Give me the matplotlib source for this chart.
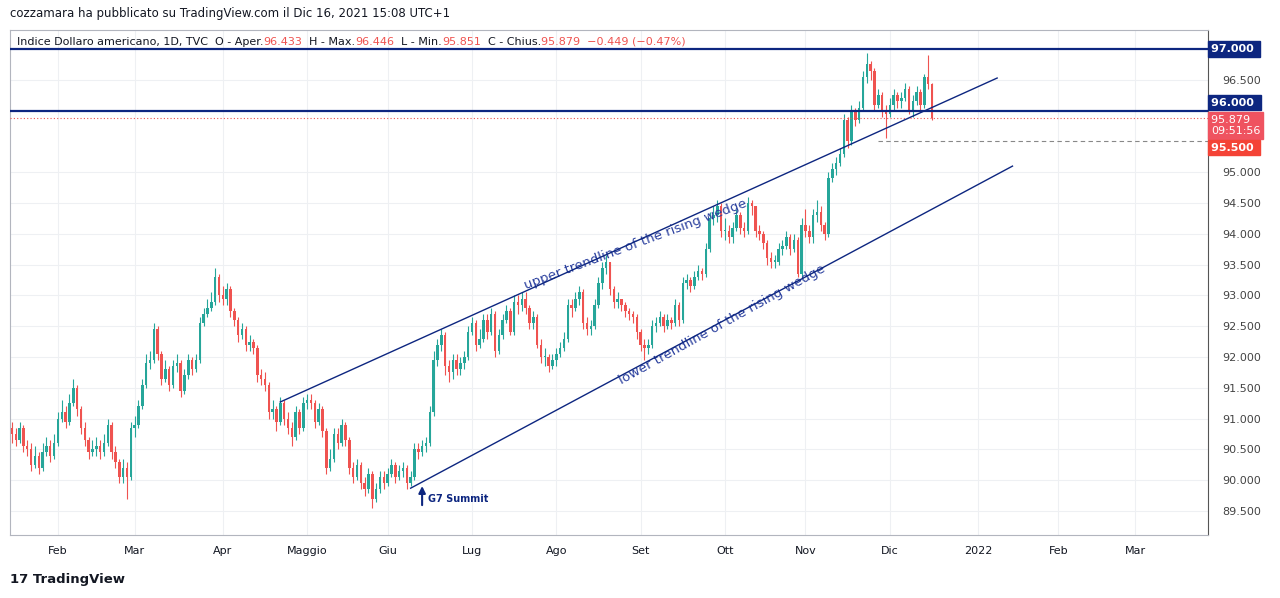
import matplotlib
matplotlib.use("Agg")
import matplotlib.pyplot as plt
import pandas as pd
import numpy as np
from matplotlib.ticker import FormatStrFormatter

closes = [
 90.75, 90.65, 90.85, 90.55, 90.50, 90.25, 90.40, 90.20, 90.45, 90.55, 90.40, 90.60,
 91.00, 91.10, 90.95, 91.25, 91.50, 91.15, 90.85, 90.65, 90.45, 90.50, 90.55, 90.45, 90.60, 90.90, 90.45, 90.30, 90.05, 90.20, 90.05, 90.85,
 90.90, 91.20, 91.55, 91.90, 91.95, 92.45, 92.05, 91.65, 91.80, 91.55, 91.85, 91.90, 91.45, 91.70, 91.95, 91.80, 91.95, 92.55, 92.70, 92.80, 92.90, 93.30, 93.00,
 92.95, 93.10, 92.75, 92.60, 92.35, 92.45, 92.20, 92.25, 92.15, 91.70, 91.65, 91.55, 91.10, 91.15, 90.95, 91.25, 91.00, 90.85, 90.70, 91.10, 90.85, 91.25,
 91.30, 91.25, 90.95, 91.15, 90.80, 90.20, 90.35, 90.75, 90.60, 90.90, 90.65, 90.20, 90.05, 90.25, 89.95, 89.85, 90.10, 89.70, 89.85, 90.05, 89.95,
 90.10, 90.25, 90.05, 90.15, 90.20, 89.95, 90.05, 90.50, 90.45, 90.55, 90.60, 91.10, 91.95, 92.20, 92.35, 91.85, 91.75, 91.95, 91.80, 91.90, 92.00, 92.40,
 92.55, 92.20, 92.30, 92.60, 92.40, 92.70, 92.10, 92.35, 92.60, 92.75, 92.40, 92.90, 92.85, 92.95, 92.80, 92.55, 92.65, 92.20, 92.00, 92.00, 91.85, 91.95,
 92.05, 92.15, 92.30, 92.85, 92.80, 92.95, 93.05, 92.55, 92.45, 92.50, 92.85, 93.20, 93.45, 93.55, 93.10, 92.90, 92.95, 92.85, 92.75, 92.70, 92.65, 92.40,
 92.20, 92.15, 92.20, 92.50, 92.55, 92.65, 92.50, 92.60, 92.55, 92.85, 92.60, 93.20, 93.25, 93.15, 93.30, 93.40, 93.35, 93.75, 94.25, 94.30, 94.45, 94.05,
 94.05, 93.95, 94.10, 94.30, 94.10, 94.05, 94.50, 94.45, 94.05, 94.00, 93.85, 93.60, 93.55, 93.55, 93.75, 93.80, 93.95, 93.75, 93.90, 93.35, 94.15,
 94.05, 93.95, 94.30, 94.35, 94.15, 94.00, 94.90, 95.05, 95.15, 95.30, 95.85, 95.50, 96.00, 95.85, 96.05, 96.55, 96.75, 96.65, 96.10, 96.25, 96.00, 95.95,
 96.10, 96.25, 96.15, 96.20, 96.35, 96.00, 96.15, 96.30, 96.10, 96.55, 96.433, 95.879,
]
opens = [90.85] + closes[:-1]
opens[-1] = 96.433
highs = [
 90.95, 90.85, 90.95, 90.90, 90.65, 90.60, 90.55, 90.45, 90.60, 90.70, 90.65, 90.75,
 91.10, 91.30, 91.20, 91.40, 91.65, 91.55, 91.20, 90.95, 90.70, 90.65, 90.70, 90.65, 90.75, 91.00, 90.95, 90.55, 90.35, 90.35, 90.30, 90.95,
 91.05, 91.30, 91.65, 92.05, 92.10, 92.55, 92.50, 92.10, 91.95, 91.85, 91.95, 92.05, 91.95, 91.80, 92.05, 92.00, 92.05, 92.65, 92.80, 92.95, 93.05, 93.45, 93.35,
 93.15, 93.20, 93.15, 92.80, 92.65, 92.55, 92.50, 92.35, 92.30, 92.20, 91.80, 91.75, 91.60, 91.30, 91.20, 91.35, 91.30, 91.10, 90.95, 91.20, 91.15, 91.35,
 91.40, 91.40, 91.30, 91.25, 91.20, 90.85, 90.50, 90.85, 90.85, 91.00, 90.95, 90.70, 90.30, 90.35, 90.30, 90.05, 90.20, 90.15, 89.95, 90.15, 90.15,
 90.20, 90.35, 90.30, 90.25, 90.30, 90.25, 90.15, 90.60, 90.60, 90.65, 90.70, 91.20, 92.10, 92.30, 92.45, 92.40, 91.95, 92.05, 92.05, 92.00, 92.10, 92.50,
 92.65, 92.60, 92.45, 92.70, 92.70, 92.80, 92.75, 92.45, 92.70, 92.85, 92.80, 93.00, 93.00, 93.05, 93.05, 92.85, 92.75, 92.70, 92.30, 92.15, 92.05, 92.05,
 92.15, 92.25, 92.40, 92.95, 92.95, 93.05, 93.15, 93.10, 92.65, 92.60, 92.95, 93.30, 93.55, 93.65, 93.55, 93.15, 93.05, 92.95, 92.90, 92.80, 92.75, 92.70,
 92.45, 92.30, 92.30, 92.60, 92.65, 92.75, 92.70, 92.70, 92.65, 92.95, 92.90, 93.30, 93.35, 93.30, 93.40, 93.50, 93.45, 93.85, 94.35, 94.45, 94.55, 94.50,
 94.25, 94.15, 94.20, 94.40, 94.35, 94.20, 94.60, 94.55, 94.45, 94.15, 94.05, 93.90, 93.70, 93.65, 93.85, 93.90, 94.05, 94.00, 94.00, 93.95, 94.25,
 94.40, 94.15, 94.40, 94.55, 94.45, 94.20, 95.00, 95.15, 95.25, 95.40, 95.95, 95.90, 96.10, 96.05, 96.15, 96.65, 96.94, 96.80, 96.70, 96.35, 96.30, 96.10,
 96.20, 96.35, 96.30, 96.30, 96.45, 96.40, 96.25, 96.40, 96.35, 96.60, 96.90, 96.446,
]
lows = [
 90.60, 90.55, 90.60, 90.45, 90.40, 90.15, 90.20, 90.10, 90.15, 90.40, 90.30, 90.35,
 90.55, 90.95, 90.85, 90.90, 91.20, 91.05, 90.75, 90.55, 90.35, 90.40, 90.40, 90.35, 90.40, 90.55, 90.35, 90.20, 89.95, 89.95, 89.70, 90.00,
 90.70, 90.85, 91.15, 91.50, 91.80, 91.90, 91.95, 91.55, 91.60, 91.45, 91.50, 91.75, 91.35, 91.40, 91.65, 91.70, 91.75, 91.90, 92.50, 92.65, 92.75, 92.85, 92.90,
 92.85, 92.85, 92.65, 92.50, 92.25, 92.30, 92.10, 92.10, 92.05, 91.60, 91.55, 91.45, 91.00, 91.00, 90.80, 90.90, 90.90, 90.75, 90.55, 90.65, 90.75, 90.80,
 91.15, 91.15, 90.85, 90.90, 90.70, 90.10, 90.15, 90.30, 90.50, 90.55, 90.55, 90.10, 89.95, 90.00, 89.85, 89.75, 89.80, 89.55, 89.65, 89.80, 89.85,
 89.90, 90.05, 89.95, 90.00, 90.05, 89.85, 89.90, 90.00, 90.35, 90.40, 90.45, 90.55, 91.05, 91.85, 92.10, 91.70, 91.60, 91.65, 91.70, 91.70, 91.80, 91.95,
 92.35, 92.10, 92.15, 92.25, 92.30, 92.35, 92.00, 92.05, 92.30, 92.55, 92.35, 92.35, 92.70, 92.75, 92.70, 92.45, 92.45, 92.15, 91.90, 91.85, 91.75, 91.80,
 91.85, 92.00, 92.10, 92.25, 92.65, 92.75, 92.85, 92.45, 92.35, 92.35, 92.45, 92.80, 93.10, 93.35, 93.00, 92.80, 92.80, 92.75, 92.65, 92.60, 92.55, 92.30,
 92.10, 91.95, 92.05, 92.15, 92.40, 92.50, 92.40, 92.45, 92.45, 92.50, 92.50, 92.55, 93.10, 93.05, 93.10, 93.25, 93.25, 93.30, 93.70, 94.15, 94.20, 93.95,
 93.90, 93.85, 93.85, 94.05, 94.00, 93.95, 94.00, 94.30, 93.95, 93.90, 93.75, 93.50, 93.45, 93.45, 93.50, 93.65, 93.75, 93.65, 93.70, 93.30, 93.30,
 93.95, 93.85, 93.85, 94.20, 94.05, 93.90, 93.95, 94.85, 94.95, 95.10, 95.25, 95.40, 95.45, 95.75, 95.80, 96.00, 96.45, 96.50, 96.00, 96.05, 95.90, 95.55,
 95.90, 96.00, 96.05, 96.05, 96.15, 95.95, 95.90, 96.10, 96.00, 96.05, 96.35, 95.851,
]
month_labels = ["Feb", "Mar", "Apr", "Maggio", "Giu", "Lug", "Ago", "Set", "Ott", "Nov", "Dic", "2022", "Feb", "Mar"]
price_ticks = [89.5, 90.0, 90.5, 91.0, 91.5, 92.0, 92.5, 93.0, 93.5, 94.0, 94.5, 95.0, 96.5]

dates = pd.bdate_range("2021-01-14", "2022-04-15")
n = len(closes)
idx = np.arange(n)

W, H = 1280, 598
fig = plt.figure(figsize=(12.8, 5.98), dpi=100)
ax = fig.add_axes([10/W, 1-535/H, 1198/W, 505/H])
ax.set_xlim(-0.5, 312)
ax.set_ylim(89.11, 97.31)
ax.set_yticks(price_ticks)
ax.yaxis.set_major_formatter(FormatStrFormatter("%.3f"))
ax.grid(color="#eef0f3", linewidth=0.8)
ax.set_axisbelow(True)

green, red = "#26a69a", "#ef5350"
o = np.array(opens[:n]); c = np.array(closes)
cols = [green if cc >= oo else red for oo, cc in zip(o, c)]
ax.vlines(idx, lows, highs, colors=cols, linewidth=0.8, zorder=2)
body = np.where(np.abs(c - o) < 0.02, 0.02, c - o)
ax.bar(idx, body, bottom=o, width=0.65, color=cols, zorder=3, linewidth=0)

firsts = []
s = pd.Series(np.arange(len(dates)), index=dates)
for m in pd.period_range("2021-02", "2022-03", freq="M"):
    sub = s[(s.index.year == m.year) & (s.index.month == m.month)]
    firsts.append(sub.iloc[0])
ax.set_xticks(firsts)
ax.set_xticklabels(month_labels, fontsize=8, color="#131722")

ax.yaxis.tick_right()
ax.tick_params(axis="y", labelsize=8, colors="#444444", length=0, pad=10)
ax.tick_params(axis="x", length=0, pad=8)
for sp in ax.spines.values():
    sp.set_color("#b2b5be"); sp.set_linewidth(0.8)
ax.spines["right"].set_color("#555555")

navy = "#0d2680"
ax.axhline(97.0, color=navy, linewidth=1.6, zorder=4)
ax.axhline(96.0, color=navy, linewidth=1.6, zorder=4)
ax.axhline(95.879, color=red, linewidth=0.8, linestyle=(0, (1, 2)), zorder=4)
ax.plot([226, 312], [95.5, 95.5], color="#888888", linewidth=0.8, linestyle=(0, (4, 3)), zorder=4)

ax.plot([70, 257], [91.27, 96.53], color=navy, linewidth=1, zorder=4)
ax.plot([104, 261], [89.87, 95.10], color=navy, linewidth=1, zorder=4)
ax.text(134, 93.10, "upper trendline of the rising wedge", color="#2a3f9e", fontsize=9.5, rotation=20.5, rotation_mode="anchor")
ax.text(159, 91.55, "lower trendline of the rising wedge", color="#2a3f9e", fontsize=9.5, rotation=29, rotation_mode="anchor")
ax.annotate("", xy=(107, 89.95), xytext=(107, 89.55),
            arrowprops=dict(arrowstyle="-|>", color=navy, lw=1.5))
ax.text(108.5, 89.65, "G7 Summit", color=navy, fontsize=7, fontweight="bold")

tr = ax.get_yaxis_transform()
def tag(y, txt, fc, fw="bold"):
    ax.text(1.0 + 3/1198, y, txt, transform=tr, fontsize=8, color="white",
            fontweight=fw, va="center", ha="left", linespacing=1.15,
            bbox=dict(boxstyle="square,pad=0.25", fc=fc, ec=fc), zorder=10, clip_on=False)
tag(97.0, "97.000 ", navy)
tag(96.13, "96.000 ", navy)
tag(95.76, "95.879   \n09:51:56", "#ef5360", fw="normal")
tag(95.40, "95.500 ", "#f44336")

fig.text(10/W, 1-14/H, "cozzamara ha pubblicato su TradingView.com il Dic 16, 2021 15:08 UTC+1",
         fontsize=8.5, color="#131722", va="center")

# legend line, sequential pieces
parts = [("Indice Dollaro americano, 1D, TVC  O - Aper.", "#131722"), ("96.433", red),
         ("  H - Max.", "#131722"), ("96.446", red), ("  L - Min.", "#131722"), ("95.851", red),
         ("  C - Chius.", "#131722"), ("95.879  \u22120.449 (\u22120.47%)", red)]
fig.canvas.draw()
r = fig.canvas.get_renderer()
x = 17
for t, col in parts:
    tt = fig.text(x/W, 1-42/H, t, fontsize=8, color=col, va="center")
    x += tt.get_window_extent(r).width
fig.text(10/W, 1-580/H, "17 TradingView", fontsize=9.5, color="#131722", va="center", fontweight="bold")

fig.savefig("out.png", dpi=100, facecolor="white")
